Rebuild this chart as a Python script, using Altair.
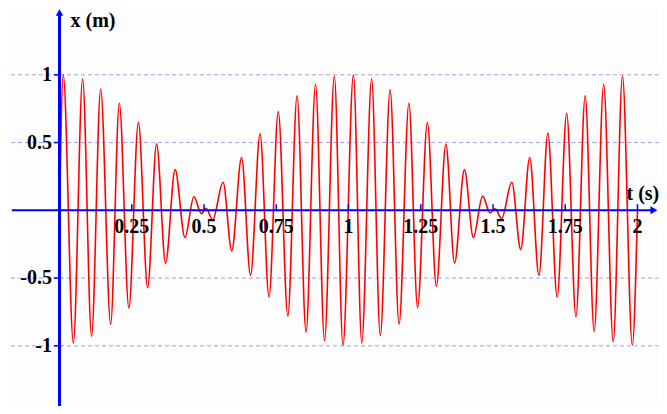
import altair as alt
import pandas as pd

# Extrema of the displacement curve (time in s, x in m)
t_ext = [0.0, 0.013, 0.048, 0.080, 0.111, 0.1425, 0.177, 0.207, 0.240, 0.273,
         0.305, 0.336, 0.367, 0.400, 0.434, 0.465, 0.491, 0.507, 0.530, 0.566,
         0.596, 0.630, 0.661, 0.694, 0.725, 0.757, 0.790, 0.822, 0.853, 0.886,
         0.917, 0.951, 0.981, 1.017, 1.046, 1.080, 1.110, 1.144, 1.175, 1.209,
         1.239, 1.273, 1.304, 1.337, 1.367, 1.401, 1.432, 1.464, 1.490, 1.507,
         1.530, 1.565, 1.596, 1.627, 1.659, 1.690, 1.722, 1.755, 1.787, 1.819,
         1.850, 1.883, 1.916, 1.948, 1.982, 2.0]
x_ext = [0.0, 1.0, -0.98, 0.97, -0.93, 0.895, -0.84, 0.79, -0.72, 0.65,
         -0.57, 0.49, -0.39, 0.30, -0.20, 0.10, -0.025, 0.015, -0.07, 0.207,
         -0.30, 0.39, -0.48, 0.565, -0.64, 0.728, -0.78, 0.845, -0.90, 0.93,
         -0.96, 0.99, -0.995, 1.0, -0.98, 0.97, -0.925, 0.89, -0.84, 0.79,
         -0.716, 0.65, -0.56, 0.487, -0.39, 0.30, -0.20, 0.105, -0.02, 0.012,
         -0.06, 0.207, -0.29, 0.39, -0.48, 0.57, -0.64, 0.716, -0.785, 0.846,
         -0.895, 0.93, -0.97, 0.99, -0.995, 0.0]

x_ticks = [0.25, 0.5, 0.75, 1, 1.25, 1.5, 1.75, 2]
x_tick_labels = ["0.25", "0.5", "0.75", "1", "1.25", "1.5", "1.75", "2"]
y_ticks = [1, 0.5, -0.5, -1]
y_tick_labels = ["1", "0.5", "-0.5", "-1"]
grid_levels = [1, 0.5, -0.5, -1]

BLUE = "#0000ff"
FONT = "Liberation Serif"

xs = alt.Scale(domain=[-0.1782, 2.0744], nice=False, zero=False)
ys = alt.Scale(domain=[-1.444, 1.493], nice=False, zero=False)

grid = alt.Chart(pd.DataFrame({"v": grid_levels})).mark_rule(
    color="#a0a0f4", strokeWidth=1, strokeDash=[4, 3]
).encode(
    y=alt.Y("v:Q", scale=ys, axis=None),
    x=alt.value(3), x2=alt.value(651)
)

curve = alt.Chart(pd.DataFrame({"t": t_ext, "x": x_ext})).mark_line(
    color="#ff0000", strokeWidth=1.6, interpolate="monotone"
).encode(
    x=alt.X("t:Q", scale=xs, axis=None),
    y=alt.Y("x:Q", scale=ys, axis=None)
)

x_axis = alt.Chart(pd.DataFrame({"a": [-0.165], "b": [2.05], "y": [0]})).mark_rule(
    color=BLUE, strokeWidth=2
).encode(
    x=alt.X("a:Q", scale=xs, axis=None), x2="b:Q",
    y=alt.Y("y:Q", scale=ys, axis=None)
)

y_axis = alt.Chart(pd.DataFrame({"a": [0], "y": [-1.444], "y2": [1.455]})).mark_rule(
    color=BLUE, strokeWidth=3
).encode(
    x=alt.X("a:Q", scale=xs, axis=None),
    y=alt.Y("y:Q", scale=ys, axis=None), y2="y2:Q"
)

x_tick_marks = alt.Chart(pd.DataFrame({"t": x_ticks, "y0": [-0.005] * len(x_ticks),
                                       "y1": [0.045] * len(x_ticks)})).mark_rule(
    color=BLUE, strokeWidth=1.5
).encode(
    x=alt.X("t:Q", scale=xs, axis=None),
    y=alt.Y("y0:Q", scale=ys, axis=None), y2="y1:Q"
)

y_tick_marks = alt.Chart(pd.DataFrame({"v": y_ticks, "a": [-0.019] * len(y_ticks),
                                       "b": [0.0] * len(y_ticks)})).mark_rule(
    color=BLUE, strokeWidth=1.5
).encode(
    x=alt.X("a:Q", scale=xs, axis=None), x2="b:Q",
    y=alt.Y("v:Q", scale=ys, axis=None)
)

arrow_right = alt.Chart(pd.DataFrame({"t": [2.057], "y": [0]})).mark_point(
    shape="triangle-right", filled=True, size=64, color=BLUE, opacity=1
).encode(
    x=alt.X("t:Q", scale=xs, axis=None),
    y=alt.Y("y:Q", scale=ys, axis=None)
)

arrow_up = alt.Chart(pd.DataFrame({"t": [0], "y": [1.46]})).mark_point(
    shape="triangle-up", filled=True, size=56, color=BLUE, opacity=1
).encode(
    x=alt.X("t:Q", scale=xs, axis=None),
    y=alt.Y("y:Q", scale=ys, axis=None)
)

x_labels = alt.Chart(pd.DataFrame({"t": x_ticks, "lab": x_tick_labels,
                                   "y": [0] * len(x_ticks)})).mark_text(
    font=FONT, fontWeight="bold", fontSize=20, color="black",
    align="center", baseline="alphabetic", dy=23
).encode(
    x=alt.X("t:Q", scale=xs, axis=None),
    y=alt.Y("y:Q", scale=ys, axis=None),
    text="lab:N"
)

y_labels = alt.Chart(pd.DataFrame({"v": y_ticks, "lab": y_tick_labels,
                                   "t": [0] * len(y_ticks)})).mark_text(
    font=FONT, fontWeight="bold", fontSize=20, color="black",
    align="right", baseline="middle", dx=-7.5
).encode(
    x=alt.X("t:Q", scale=xs, axis=None),
    y=alt.Y("v:Q", scale=ys, axis=None),
    text="lab:N"
)

titles = alt.Chart(pd.DataFrame({"t": [0.038, 1.962], "y": [1.353, 0.076],
                                 "lab": ["x (m)", "t (s)"]})).mark_text(
    font=FONT, fontWeight="bold", fontSize=20, color="black",
    align="left", baseline="alphabetic"
).encode(
    x=alt.X("t:Q", scale=xs, axis=None),
    y=alt.Y("y:Q", scale=ys, axis=None),
    text="lab:N"
)

chart = alt.layer(
    grid, curve, x_axis, y_axis, x_tick_marks, y_tick_marks,
    arrow_right, arrow_up, x_labels, y_labels, titles
).properties(
    width=651, height=398, padding=0,
    autosize=alt.AutoSizeParams(type="none"),
    background="#fdfdfd"
).configure_view(stroke=None)

chart.save("out.html", embed_options={"renderer": "svg", "actions": False})
